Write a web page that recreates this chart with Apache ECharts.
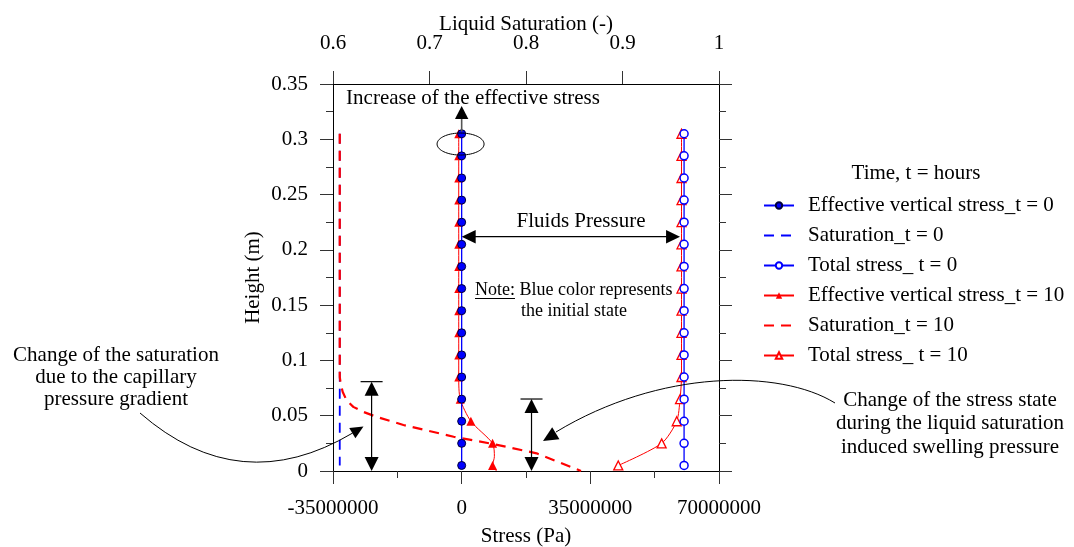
<!DOCTYPE html>
<html>
<head>
<meta charset="utf-8">
<script src="https://cdn.jsdelivr.net/npm/echarts@6/dist/echarts.min.js"></script>
<style>
  html, body { margin: 0; padding: 0; background: #fff; }
  #chart { width: 1074px; height: 547px; }
</style>
</head>
<body>
<div id="chart"></div>
<script>
// ---- Sampled heights along the specimen (m), listed top to bottom ----
const heights = [0.305, 0.285, 0.265, 0.245, 0.225, 0.205, 0.185, 0.165,
                 0.145, 0.125, 0.105, 0.085, 0.065, 0.045, 0.025, 0.005];

// ---- Stress profiles (Pa) at those heights ----
const effStressT0   = [0, 0, 0, 0, 0, 0, 0, 0, 0, 0, 0, 0, 0, 0, 0, 0];
const totalStressT0 = [60.5e6, 60.5e6, 60.5e6, 60.5e6, 60.5e6, 60.5e6, 60.5e6, 60.5e6,
                       60.5e6, 60.5e6, 60.5e6, 60.5e6, 60.5e6, 60.5e6, 60.5e6, 60.5e6];
const effStressT10  = [-0.8e6, -0.8e6, -0.8e6, -0.8e6, -0.8e6, -0.8e6, -0.8e6, -0.8e6,
                       -0.8e6, -0.8e6, -0.8e6, -0.8e6, -0.4e6, 2.5e6, 8.4e6, 8.4e6];
const totalStressT10 = [59.8e6, 59.8e6, 59.8e6, 59.8e6, 59.8e6, 59.8e6, 59.8e6, 59.8e6,
                        59.8e6, 59.8e6, 59.8e6, 59.8e6, 59.4e6, 58.5e6, 54.4e6, 42.6e6];
// extra (unmarked) computed points of the t = 10 effective stress near the base
const effStressT10BaseHeights = [0.013, 0];
const effStressT10Base        = [8.9e6, 9.5e6];

// ---- Liquid saturation (-) ----
const satT0 = [0.607, 0.607, 0.607, 0.607, 0.607, 0.607, 0.607, 0.607,
               0.607, 0.607, 0.607, 0.607, 0.607, 0.607, 0.607, 0.607];
const satHeightsT10 = [0.305, 0.085, 0.079, 0.0717, 0.064, 0.058, 0.0536, 0.049,
                       0.0416, 0.031, 0.0244, 0.016, 0];
const satT10        = [0.607, 0.607, 0.608, 0.610, 0.614, 0.621, 0.631, 0.645,
                       0.673, 0.725, 0.766, 0.811, 0.857];

// ---- Axis ticks ----
const stressTicks = [-35000000, 0, 35000000, 70000000];
const satTicks    = [0.6, 0.7, 0.8, 0.9, 1];
const heightTicks = [0, 0.05, 0.1, 0.15, 0.2, 0.25, 0.3, 0.35];

const SERIF = '"Liberation Serif", "Times New Roman", serif';
const BLUE = '#0000ff';
const RED = '#ff0000';

const pairs = (xs, ys) => xs.map((x, i) => [x, ys[i]]);

// t = 10 effective stress: marked points merged with the unmarked base points
const effT10Data = pairs(effStressT10, heights).map(p => ({ value: p }))
  .concat(pairs(effStressT10Base, effStressT10BaseHeights).map(p => ({ value: p, symbol: 'none' })))
  .sort((a, b) => b.value[1] - a.value[1]);

const tickStyle = { color: '#333', width: 1 };
const lineStyleAxis = { color: '#000', width: 1 };
const labelFont = { fontFamily: SERIF, fontSize: 21, color: '#000' };

const chart = echarts.init(document.getElementById('chart'), null, { renderer: 'canvas' });

const option = {
  animation: false,
  backgroundColor: '#fff',
  grid: { left: 333, top: 84, right: 355, bottom: 76, containLabel: false, outerBoundsMode: 'none' },
  legend: {
    orient: 'vertical',
    left: 763,
    top: 195,
    padding: 0,
    itemWidth: 30,
    itemHeight: 8,
    itemGap: 9,
    selectedMode: false,
    textStyle: { fontFamily: SERIF, fontSize: 21, color: '#000', padding: [0, 0, 0, 9] },
    data: [
      'Effective vertical stress_t = 0',
      { name: 'Saturation_t = 0', itemStyle: { opacity: 0 } },
      'Total stress_ t = 0',
      'Effective vertical stress_t = 10',
      { name: 'Saturation_t = 10', itemStyle: { opacity: 0 } },
      'Total stress_ t = 10'
    ]
  },
  xAxis: [
    {
      type: 'value', position: 'bottom',
      min: stressTicks[0], max: stressTicks[stressTicks.length - 1], interval: 35000000,
      splitLine: { show: false },
      axisLine: { onZero: false, lineStyle: lineStyleAxis },
      axisTick: { inside: false, length: 13, lineStyle: tickStyle },
      minorTick: { show: true, splitNumber: 2, length: 7, lineStyle: tickStyle },
      axisLabel: { margin: 27, ...labelFont, formatter: v => String(Math.round(v)) },
      name: 'Stress (Pa)', nameLocation: 'middle', nameGap: 55, nameMoveOverlap: false,
      nameTextStyle: { fontFamily: SERIF, fontSize: 21, color: '#000' }
    },
    {
      type: 'value', position: 'top',
      min: satTicks[0], max: satTicks[satTicks.length - 1], interval: 0.1,
      splitLine: { show: false },
      axisLine: { onZero: false, lineStyle: lineStyleAxis },
      axisTick: { inside: false, length: 13, lineStyle: tickStyle },
      axisLabel: { margin: 30, ...labelFont, formatter: v => String(+v.toFixed(2)) },
      name: 'Liquid Saturation (-)', nameLocation: 'middle', nameGap: 49, nameMoveOverlap: false,
      nameTextStyle: { fontFamily: SERIF, fontSize: 21, color: '#000' }
    }
  ],
  yAxis: [
    {
      type: 'value', position: 'left',
      min: heightTicks[0], max: heightTicks[heightTicks.length - 1], interval: 0.05,
      splitLine: { show: false },
      axisLine: { onZero: false, lineStyle: lineStyleAxis },
      axisTick: { inside: false, length: 13, lineStyle: tickStyle },
      minorTick: { show: true, splitNumber: 2, length: 7, lineStyle: tickStyle },
      axisLabel: { margin: 25, ...labelFont, formatter: v => String(+v.toFixed(3)) },
      name: 'Height (m)', nameLocation: 'middle', nameGap: 69, nameRotate: 90, nameMoveOverlap: false,
      nameTextStyle: { fontFamily: SERIF, fontSize: 21, color: '#000' }
    },
    {
      type: 'value', position: 'right',
      min: heightTicks[0], max: heightTicks[heightTicks.length - 1], interval: 0.05,
      splitLine: { show: false },
      axisLine: { onZero: false, lineStyle: lineStyleAxis },
      axisTick: { inside: false, length: 13, lineStyle: tickStyle },
      minorTick: { show: true, splitNumber: 2, length: 7, lineStyle: tickStyle },
      axisLabel: { show: false }
    }
  ],
  series: [
    {
      name: 'Effective vertical stress_t = 0', type: 'line', xAxisIndex: 0, yAxisIndex: 0,
      data: pairs(effStressT0, heights), symbol: 'circle', symbolSize: 8, z: 5,
      lineStyle: { color: BLUE, width: 1.3 },
      itemStyle: { color: BLUE, borderColor: '#00003a', borderWidth: 1 }
    },
    {
      name: 'Saturation_t = 0', type: 'line', xAxisIndex: 1, yAxisIndex: 0,
      data: pairs(satT0, heights), symbol: 'none', showSymbol: false, z: 2,
      lineStyle: { color: BLUE, width: 1.8, type: [10, 7] },
      itemStyle: { color: BLUE }
    },
    {
      name: 'Total stress_ t = 0', type: 'line', xAxisIndex: 0, yAxisIndex: 0,
      data: pairs(totalStressT0, heights), symbol: 'circle', symbolSize: 8, z: 5,
      lineStyle: { color: BLUE, width: 1.3 },
      itemStyle: { color: '#fff', borderColor: BLUE, borderWidth: 1.5 }
    },
    {
      name: 'Effective vertical stress_t = 10', type: 'line', xAxisIndex: 0, yAxisIndex: 0,
      data: effT10Data, symbol: 'triangle', symbolSize: 9, z: 4, smooth: 0.25,
      lineStyle: { color: RED, width: 1 },
      itemStyle: { color: RED }
    },
    {
      name: 'Saturation_t = 10', type: 'line', xAxisIndex: 1, yAxisIndex: 0,
      data: pairs(satT10, satHeightsT10), symbol: 'none', showSymbol: false, z: 3,
      lineStyle: { color: RED, width: 2.2, type: [10, 7] },
      itemStyle: { color: RED }
    },
    {
      name: 'Total stress_ t = 10', type: 'line', xAxisIndex: 0, yAxisIndex: 0,
      data: pairs(totalStressT10, heights), symbol: 'triangle', symbolSize: 9, z: 4, smooth: 0.25,
      lineStyle: { color: RED, width: 1 },
      itemStyle: { color: '#fff', borderColor: RED, borderWidth: 1.3 }
    }
  ]
};

chart.setOption(option);

// ---- Annotations: arrows, ellipse and explanatory texts ----
const toPx = (x, h) => chart.convertToPixel({ xAxisIndex: 0, yAxisIndex: 0 }, [x, h]);

function head(tip, dx, dy, len, half) {
  const n = Math.hypot(dx, dy), ux = dx / n, uy = dy / n;
  const bx = tip[0] - ux * len, by = tip[1] - uy * len;
  return {
    type: 'polygon', silent: true, z: 100,
    shape: { points: [[tip[0], tip[1]], [bx - uy * half, by + ux * half], [bx + uy * half, by - ux * half]] },
    style: { fill: '#000' }
  };
}
function seg(x1, y1, x2, y2, color, w) {
  return { type: 'line', silent: true, z: 100,
           shape: { x1, y1, x2, y2 }, style: { stroke: color || '#000', lineWidth: w || 1.2 } };
}
function label(text, x, y, size, align) {
  return { type: 'text', silent: true, z: 100, x, y,
           style: { text, font: size + 'px ' + SERIF, fill: '#000',
                    align: align || 'center', verticalAlign: 'middle' } };
}

const g = [];

// effective stress rise at the top of the column
const riseFrom = toPx(0, 0.305), riseTip = toPx(0, 0.330);
g.push(seg(riseFrom[0], riseFrom[1] - 2, riseTip[0], riseTip[1] + 12, '#555', 1.6));
g.push(head(riseTip, 0, -1, 13, 6.7));
g.push(label('Increase of the effective stress', 473, 98.5, 21));

// ellipse around the topmost points
const ec = toPx(-0.3e6, 0.2957);
const ell = [];
for (let i = 0; i < 72; i++) {
  const a = i / 72 * Math.PI * 2;
  ell.push([ec[0] + 23.5 * Math.cos(a), ec[1] + 11 * Math.sin(a)]);
}
g.push({ type: 'polygon', silent: true, z: 100, shape: { points: ell },
         style: { fill: 'none', stroke: '#000', lineWidth: 1 } });

// fluid pressure: gap between effective and total stress
const fpL = toPx(0, 0.2119), fpR = toPx(59.4e6, 0.2119);
g.push(seg(fpL[0] + 10, fpL[1], fpR[0] - 10, fpR[1], '#000', 1.2));
g.push(head(fpL, -1, 0, 14, 6.7));
g.push(head(fpR, 1, 0, 14, 6.7));
g.push(label('Fluids Pressure', 581, 221.5, 21));

// note
const noteFont = 18;
g.push(label('Note: Blue color represents', 475, 290, noteFont, 'left'));
const mctx = document.createElement('canvas').getContext('2d');
mctx.font = noteFont + 'px ' + SERIF;
const noteW = mctx.measureText('Note:').width;
g.push(seg(475, 298.5, 475 + noteW, 298.5, '#000', 1));
g.push(label('the initial state', 574, 311, noteFont));

// swelling zone double arrows near the base
function doubleArrow(stress, topH) {
  const top = toPx(stress, topH), bot = toPx(stress, 0);
  g.push(seg(top[0] - 11, top[1], top[0] + 11, top[1], '#000', 1.2));
  g.push(seg(top[0], top[1] + 8, bot[0], bot[1] - 8, '#000', 1.2));
  g.push(head(top, 0, -1, 14, 7));
  g.push(head(bot, 0, 1, 14, 7));
}
doubleArrow(-24.5e6, 0.0808);
doubleArrow(19.0e6, 0.0651);

// saturation change callout (left)
g.push({ type: 'bezierCurve', silent: true, z: 100,
         shape: { x1: 140, y1: 413, cpx1: 240, cpy1: 500, x2: 352.7, y2: 433 },
         style: { stroke: '#000', lineWidth: 1, fill: 'none' } });
g.push(head([363.5, 426.5], 112.7, -67, 13, 6));
g.push(label('Change of the saturation', 116, 355, 21));
g.push(label('due to the capillary', 116, 377, 21));
g.push(label('pressure gradient', 116, 399, 21));

// stress state change callout (right)
g.push({ type: 'bezierCurve', silent: true, z: 100,
         shape: { x1: 835, y1: 403, cpx1: 780, cpy1: 369, cpx2: 660, cpy2: 369, x2: 556, y2: 432 },
         style: { stroke: '#000', lineWidth: 1, fill: 'none' } });
g.push(head([543, 441], -104, 63, 15, 7));
g.push(label('Change of the stress state', 950, 400, 21));
g.push(label('during the liquid saturation', 950, 423.5, 21));
g.push(label('induced swelling pressure', 950, 447, 21));

// legend heading
g.push(label('Time, t = hours', 916, 173, 21));

chart.setOption({ graphic: { elements: g } });
</script>
</body>
</html>
